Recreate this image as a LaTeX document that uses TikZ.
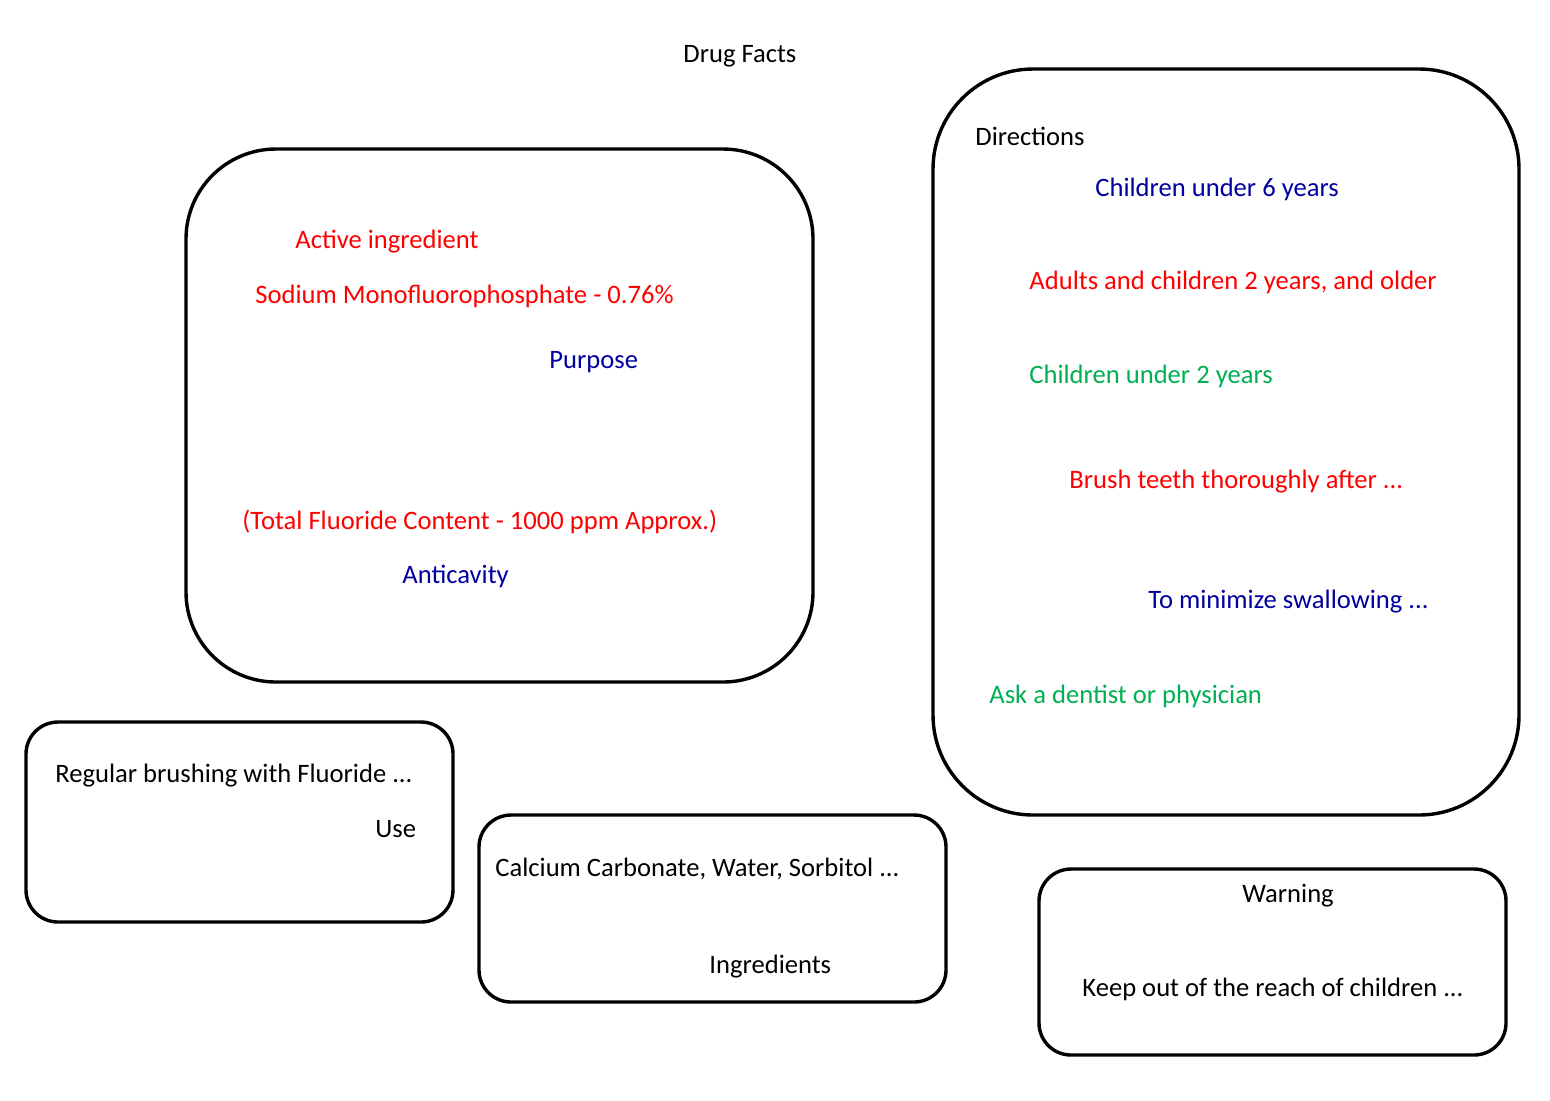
\documentclass[tikz,border=0pt]{standalone}
\usepackage{fontspec}
\setmainfont{Carlito}
\usetikzlibrary{positioning}
\definecolor{labelred}{RGB}{255, 0, 0}
\definecolor{labelblue}{RGB}{0, 0, 160}
\definecolor{labelgreen}{RGB}{0, 176, 80}

\begin{document}
\begin{tikzpicture}[
    x=0.5pt, y=-0.5pt,
    panel/.style={draw=black, line width=1.7pt},
    txt/.style={anchor=west, inner sep=0pt, font=\fontsize{13.3}{15}\selectfont, text=black},
    redtxt/.style={txt, text=labelred},
    bluetxt/.style={txt, text=labelblue},
    greentxt/.style={txt, text=labelgreen}
]
\useasboundingbox (0,0) rectangle (1550,1100);

\node (title) [txt] at (683,56) {Drug Facts};

% main panel
\draw [panel, rounded corners=45pt] (186,149) rectangle (813,682);
\node (active) [redtxt] at (295,242) {Active ingredient};
\node (sodium) [redtxt] at (255,296) {Sodium Monofluorophosphate - 0.76\%};
\node (purpose) [bluetxt] at (549,362) {Purpose};
\node (fluoride) [redtxt] at (242,522) {(Total Fluoride Content - 1000 ppm Approx.)};
\node (anticavity) [bluetxt] at (402,576) {Anticavity};

% directions panel
\draw [panel, rounded corners=50pt] (933,69) rectangle (1519,815);
\node (directions) [txt] at (975,136) {Directions};
\node (under6) [bluetxt] at (1095,189) {Children under 6 years};
\node (adults) [redtxt] at (1029,282) {Adults and children 2 years, and older};
\node (under2) [greentxt] at (1029,376) {Children under 2 years};
\node (brush) [redtxt] at (1069,482) {Brush teeth thoroughly after ...};
\node (swallow) [bluetxt] at (1148,602) {To minimize swallowing ...};
\node (dentist) [greentxt] at (989,696) {Ask a dentist or physician};

% use panel
\draw [panel, rounded corners=16pt] (26,722) rectangle (453,922);
\node (regular) [txt] at (55,776) {Regular brushing with Fluoride ...};
\node (use) [txt] at (375,829) {Use};

% ingredients panel
\draw [panel, rounded corners=16pt] (479,815) rectangle (946,1002);
\node (calcium) [txt] at (495,869) {Calcium Carbonate, Water, Sorbitol ...};
\node (ingredients) [txt] at (709,967) {Ingredients};

% warning panel
\draw [panel, rounded corners=16pt] (1039,869) rectangle (1506,1055);
\node (warning) [txt] at (1242,896) {Warning};
\node (keepout) [txt] at (1082,989) {Keep out of the reach of children ...};

\end{tikzpicture}
\end{document}
